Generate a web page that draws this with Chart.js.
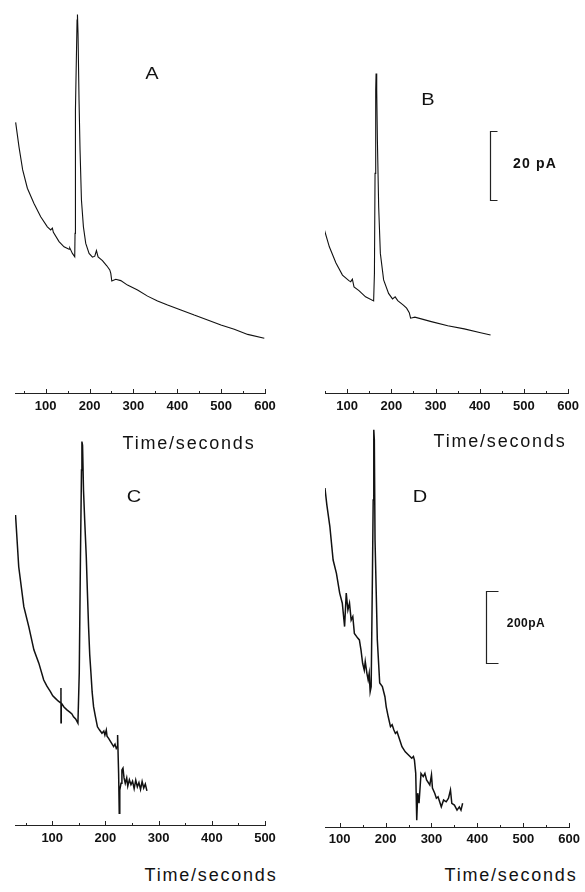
<!DOCTYPE html>
<html>
<head>
<meta charset="utf-8">
<script src="https://cdn.jsdelivr.net/npm/chart.js@4.4.1/dist/chart.umd.min.js"></script>
<style>
  html, body { margin: 0; padding: 0; background: #fff; }
  #page { position: relative; width: 585px; height: 892px; overflow: hidden; }
  canvas { position: absolute; left: 0; }
  .txt {
    position: absolute; color: #111; white-space: nowrap; line-height: 1;
    font-family: 'Liberation Sans', Arial, sans-serif;
    transform: translate(-50%, -50%);
  }
  .panel { font-size: 16px; transform: translate(-50%, -50%) scaleX(1.25); }
  .xtitle { font-size: 18px; letter-spacing: 1.8px; }
  .bar { font-weight: bold; }
</style>
</head>
<body>
<div id="page">
  <canvas id="chartA" width="585" height="420" style="top:0"></canvas>
  <canvas id="chartB" width="585" height="420" style="top:0"></canvas>
  <canvas id="chartC" width="585" height="440" style="top:415px"></canvas>
  <canvas id="chartD" width="585" height="440" style="top:415px"></canvas>

  <div class="txt panel" style="left:152px; top:74px">A</div>
  <div class="txt panel" style="left:428px; top:100px">B</div>
  <div class="txt panel" style="left:134px; top:497px">C</div>
  <div class="txt panel" style="left:420px; top:497px">D</div>

  <div class="txt xtitle" style="left:189px; top:443px">Time/seconds</div>
  <div class="txt xtitle" style="left:500px; top:441px">Time/seconds</div>
  <div class="txt xtitle" style="left:211px; top:875px">Time/seconds</div>
  <div class="txt xtitle" style="left:511px; top:875px">Time/seconds</div>

  <div class="txt bar" style="left:535px; top:163px; font-size:14px; letter-spacing:1.2px">20 pA</div>
  <div class="txt bar" style="left:526px; top:623px; font-size:12px; letter-spacing:0.5px">200pA</div>
</div>

<script>
// ---- data (time in s, current in pA) ----
const timeA = [31.5, 39.1, 47.5, 58.2, 73.3, 88.6, 103.8, 111.4, 115.2, 117.5, 130.4, 141.8, 153.2, 154.8, 160.9, 166.2,
  166.9, 167.8, 171.5, 172.4, 173.7, 176, 178.3, 181.5, 186, 191.3, 198.9, 206.6, 211.9, 215.7, 219.4, 229.4,
  239.3, 246.1, 248.4, 250.7, 259.8, 271.2, 286.5, 309.4, 332.2, 355, 377.9, 408.2, 438.6, 469.2, 499.5, 529.9, 560.5, 598.4];
const currentA = [78.5, 71.4, 64.7, 59.4, 55.0, 51.1, 48.2, 47.3, 47.8, 46.6, 43.9, 42.4, 41.7, 42.1, 40.5, 39.5,
  46.3, 82.1, 108.2, 109.8, 104.3, 85.0, 70.5, 56.0, 48.2, 43.4, 40.5, 39.4, 39.7, 41.3, 39.5, 38.4,
  36.9, 35.7, 34.7, 32.5, 33.0, 32.6, 31.3, 29.9, 28.1, 26.7, 25.5, 24.1, 22.6, 21.2, 19.7, 18.5, 17.0, 15.9];

const timeB = [48.7, 59.8, 74.8, 89.5, 104, 108.2, 111.9, 115.6, 126.8, 141.7, 160, 161.8, 163.2, 164.7, 165.5, 167,
  168.5, 171.4, 175.2, 182.6, 193.8, 202.7, 208.7, 214.5, 227.2, 234.6, 240.6, 243.6, 253.3, 290.4, 327.7, 365, 402, 424.5];
const currentB = [47.3, 42.4, 37.7, 34.2, 32.6, 32.3, 33.0, 30.8, 29.7, 27.9, 26.7, 34.7, 63.7, 87.9, 92.7, 87.9,
  73.4, 54.0, 40.5, 32.8, 28.9, 27.3, 27.9, 26.8, 25.5, 24.6, 23.3, 21.7, 22.0, 20.7, 19.5, 18.6, 17.5, 16.8];

const timeC = [31, 37, 46.6, 56, 65.5, 74.8, 84, 90, 96.6, 101, 106, 111, 116, 116.4, 116.5, 117, 122, 127.6, 133, 137,
  140, 144, 148.3, 150.8, 153, 155, 155.8, 157, 158.8, 161, 164, 166, 168.3, 170.5, 172.8, 175, 177.7, 181, 185, 189,
  193.5, 197, 199, 201.6, 203, 206, 210, 215.4, 218, 220.4, 222, 222.9, 224.8, 226, 227, 229.3, 231, 233, 235, 237.3,
  240, 242, 245, 248, 251, 254, 257, 260, 263, 266, 269, 272, 275, 278];
const currentC = [862, 718, 607, 551, 487, 450, 403, 386, 371, 359, 352, 345, 339, 381, 284, 339, 328, 320, 314, 309,
  301, 295, 283, 423, 737, 987, 1066, 1056, 931, 848, 746, 653, 551, 473, 422, 370, 329, 303, 273, 264,
  255, 261, 250, 264, 247, 241, 231, 218, 225, 213, 217, 250, 144, 33, 97, 116, 153, 158, 131, 116,
  131, 108, 126, 112, 122, 101, 125, 106, 118, 99, 121, 103, 114, 95];

const timeD = [67.9, 72, 78.6, 85.7, 92.9, 100, 105.7, 110.7, 114.3, 117.9, 121.4, 125, 128.6, 132, 139.3, 142.9, 146.4,
  150, 153.6, 155.7, 159.3, 162, 164.3, 166.4, 168.6, 171.4, 173, 174.3, 175.5, 177, 182, 187.2, 193, 198.6, 201.4,
  205.7, 210.7, 214.3, 217.9, 221.4, 225, 228.6, 235.7, 242.9, 250, 257, 260.7, 262.9, 265.7, 267.9, 270, 272.9,
  277.2, 282, 285.7, 289.3, 296.4, 300, 302.1, 307.1, 310.7, 314.3, 321.4, 326.4, 332.1, 337.1, 341.4, 344.3, 350,
  355.7, 360.7, 364.3, 367.9];
const currentD = [942, 895, 835, 742, 705, 650, 622, 557, 650, 603, 622, 575, 585, 538, 525, 520, 492,
  455, 436, 460, 427, 409, 427, 376, 390, 705, 909, 1104, 1076, 798, 520, 400, 390, 362, 334,
  307, 279, 284, 270, 260, 265, 251, 223, 209, 200, 191, 196, 186, 149, 19, 94, 66,
  149, 140, 149, 131, 117, 145, 108, 94, 80, 84, 56, 75, 70, 80, 103, 66, 61,
  47, 56, 47, 66];

// axis ticks (seconds)
const majorTicks = [100, 200, 300, 400, 500, 600];
const minorTicks = [50, 150, 250, 350, 450, 550];

// scale bars: [time, from pA, to pA]
const scaleBarB = [424, 56, 76];
const scaleBarD = [419, 456, 656];

Chart.defaults.font.family = "'Liberation Sans', Arial, sans-serif";
Chart.defaults.color = '#111';

// ticks pointing up into the plot, plus optional scale bar
const inwardTicks = {
  id: 'inwardTicks',
  afterDraw(chart, args, opts) {
    const xs = chart.scales.x, ys = chart.scales.y, ctx = chart.ctx;
    const bottom = chart.chartArea.bottom;
    ctx.save();
    ctx.strokeStyle = '#222';
    ctx.lineWidth = 1;
    xs.ticks.forEach(t => {
      const px = Math.round(xs.getPixelForValue(t.value)) + 0.5;
      const len = majorTicks.includes(t.value) ? 4 : 2;
      ctx.beginPath();
      ctx.moveTo(px, bottom);
      ctx.lineTo(px, bottom - len);
      ctx.stroke();
    });
    if (opts.bar) {
      const [t, lo, hi] = opts.bar;
      const px = Math.round(xs.getPixelForValue(t)) + 0.5;
      const y1 = Math.round(ys.getPixelForValue(hi)) + 0.5;
      const y2 = Math.round(ys.getPixelForValue(lo)) + 0.5;
      ctx.lineWidth = 1.2;
      ctx.beginPath();
      ctx.moveTo(px + opts.serif, y1);
      ctx.lineTo(px, y1);
      ctx.lineTo(px, y2);
      ctx.lineTo(px + opts.serif, y2);
      ctx.stroke();
    }
    ctx.restore();
  }
};

function makePanel(id, times, values, cfg) {
  const ticks = majorTicks.concat(minorTicks)
    .filter(v => v >= cfg.xMin && v <= cfg.xMax)
    .sort((a, b) => a - b);
  return new Chart(document.getElementById(id), {
    type: 'line',
    data: {
      datasets: [{
        data: times.map((t, i) => ({ x: t, y: values[i] })),
        borderColor: '#111',
        borderWidth: cfg.lineWidth,
        pointRadius: 0,
        tension: 0,
        fill: false
      }]
    },
    options: {
      responsive: false,
      animation: false,
      devicePixelRatio: 1,
      layout: { padding: { left: cfg.left, right: 585 - cfg.right, top: 0, bottom: 0 } },
      plugins: {
        legend: { display: false },
        tooltip: { enabled: false },
        inwardTicks: { bar: cfg.bar || null, serif: cfg.serif || 0 }
      },
      scales: {
        x: {
          type: 'linear',
          min: cfg.xMin,
          max: cfg.xMax,
          afterBuildTicks: scale => { scale.ticks = ticks.map(v => ({ value: v })); },
          afterFit: scale => { scale.height = cfg.axisHeight; },
          grid: { display: false, drawTicks: false },
          border: { display: true, color: '#222', width: 1 },
          ticks: {
            autoSkip: false,
            maxRotation: 0,
            padding: cfg.labelPad,
            color: '#111',
            font: { size: 13, weight: 'bold' },
            callback: v => majorTicks.includes(v) ? String(v) : ''
          }
        },
        y: { display: false, min: 0, max: cfg.yMax }
      }
    },
    plugins: [inwardTicks]
  });
}

makePanel('chartA', timeA, currentA, { xMin: 30, xMax: 600, left: 15, right: 265, axisHeight: 27, labelPad: 6, yMax: 114, lineWidth: 1.1 });
makePanel('chartB', timeB, currentB, { xMin: 50, xMax: 600, left: 325, right: 572, axisHeight: 27, labelPad: 6, yMax: 114, lineWidth: 1.1, bar: scaleBarB, serif: 7 });
makePanel('chartC', timeC, currentC, { xMin: 30, xMax: 500, left: 15, right: 265, axisHeight: 30, labelPad: 6, yMax: 1140, lineWidth: 1.5 });
makePanel('chartD', timeD, currentD, { xMin: 68, xMax: 600, left: 325, right: 573, axisHeight: 28, labelPad: 5, yMax: 1145, lineWidth: 1.5, bar: scaleBarD, serif: 12 });
</script>
</body>
</html>
